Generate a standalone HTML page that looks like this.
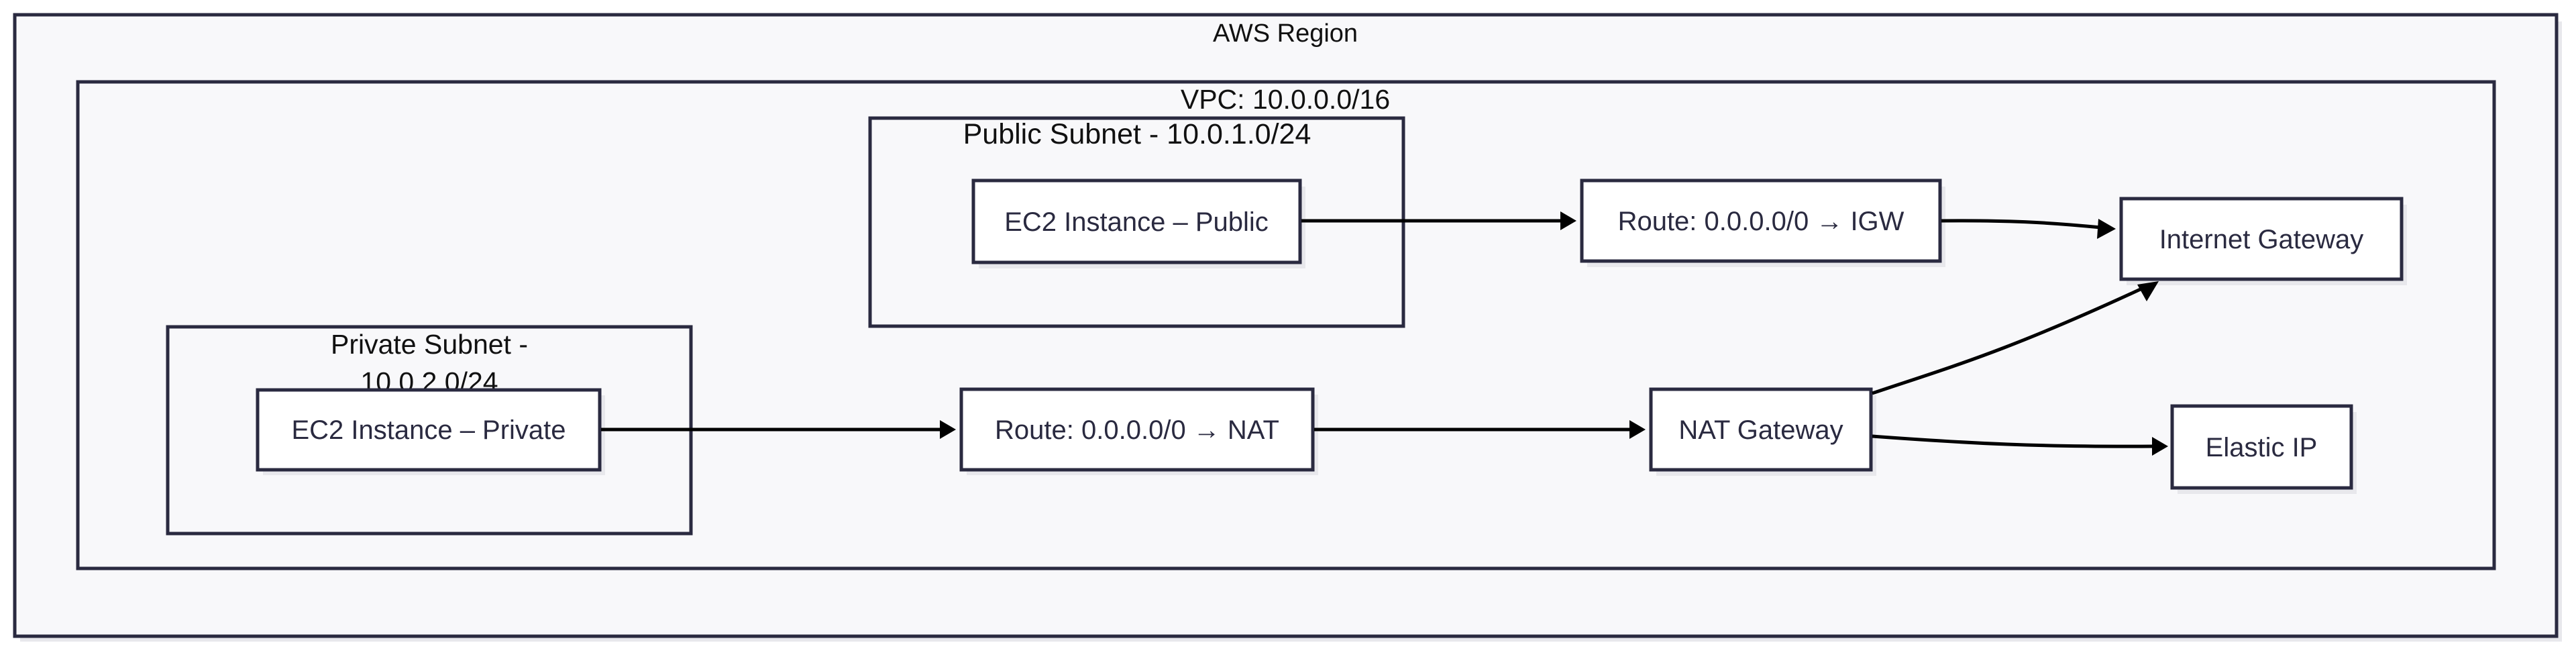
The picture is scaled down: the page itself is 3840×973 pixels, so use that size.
<!DOCTYPE html>
<html><head><meta charset="utf-8"><style>
html,body{margin:0;padding:0;background:#fff;}
svg{display:block}
text{font-family:"Liberation Sans",sans-serif;}
</style></head><body>
<svg width="3840" height="973" viewBox="0 0 3840 973" xmlns="http://www.w3.org/2000/svg">
<g fill="#e8e8ec">
<rect x="30" y="32" width="3789" height="924"/>
<rect x="124" y="130" width="3602" height="725"/>
<rect x="1305" y="184" width="792" height="308"/>
<rect x="258" y="495" width="781" height="308"/>
</g>
<rect x="22" y="22" width="3789" height="926" fill="#f8f8fa" stroke="#2a2a40" stroke-width="5"/>
<rect x="116" y="122" width="3602" height="725" fill="#f8f8fa" stroke="#2a2a40" stroke-width="5"/>
<rect x="1297" y="176" width="795" height="310" fill="#f8f8fa" stroke="#2a2a40" stroke-width="5"/>
<rect x="250" y="487" width="780" height="308" fill="#f8f8fa" stroke="#2a2a40" stroke-width="5"/>
<g fill="#111" text-anchor="middle">
<text x="1916" y="62" font-size="38">AWS Region</text>
<text x="1916" y="162" font-size="41">VPC: 10.0.0.0/16</text>
<text x="1695" y="214" font-size="43">Public Subnet - 10.0.1.0/24</text>
<text x="640" y="527" font-size="41">Private Subnet -</text>
<text x="640" y="583" font-size="41">10.0.2.0/24</text>
</g>
<g fill="#e8e8ec">
<rect x="1459" y="278" width="487" height="122"/>
<rect x="2366" y="278" width="534" height="120"/>
<rect x="3170" y="305" width="418" height="120"/>
<rect x="392" y="589" width="510" height="119"/>
<rect x="1441" y="588" width="524" height="120"/>
<rect x="2469" y="589" width="328" height="120"/>
<rect x="3246" y="614" width="267" height="122"/>
</g>
<g fill="#ffffff" stroke="#2a2a40" stroke-width="5">
<rect x="1451" y="269" width="487" height="122"/>
<rect x="2358" y="269" width="534" height="120"/>
<rect x="3162" y="296" width="418" height="120"/>
<rect x="384" y="581" width="510" height="119"/>
<rect x="1433" y="580" width="524" height="120"/>
<rect x="2461" y="580" width="328" height="120"/>
<rect x="3238" y="605" width="267" height="122"/>
</g>
<g fill="#2a2a40" font-size="40" text-anchor="middle">
<text x="1694" y="344">EC2 Instance – Public</text>
<text x="2625" y="343">Route: 0.0.0.0/0 → IGW</text>
<text x="3371" y="370">Internet Gateway</text>
<text x="639" y="654">EC2 Instance – Private</text>
<text x="1695" y="654">Route: 0.0.0.0/0 → NAT</text>
<text x="2625" y="654">NAT Gateway</text>
<text x="3371" y="680">Elastic IP</text>
</g>
<g fill="none" stroke="#000" stroke-width="5">
<path d="M1940 329 L2328 329"/>
<path d="M2894 329 C2990 328 3050 331 3132 339"/>
<path d="M896 640 L1403 640"/>
<path d="M1959 640 L2431 640"/>
<path d="M2791 586 C2910 546 2990 524 3195 429"/>
<path d="M2791 650 C2940 661 3040 666 3210 665"/>
</g>
<g fill="#000">
<polygon points="2350,329 2326,315 2326,343"/>
<polygon points="3154,341 3128,326 3126,356"/>
<polygon points="1425,640 1401,626 1401,654"/>
<polygon points="2453,640 2429,626 2429,654"/>
<polygon points="3218,419 3186,424 3200,449"/>
<polygon points="3232,665 3208,651 3208,679"/>
</g>
</svg>
</body></html>
